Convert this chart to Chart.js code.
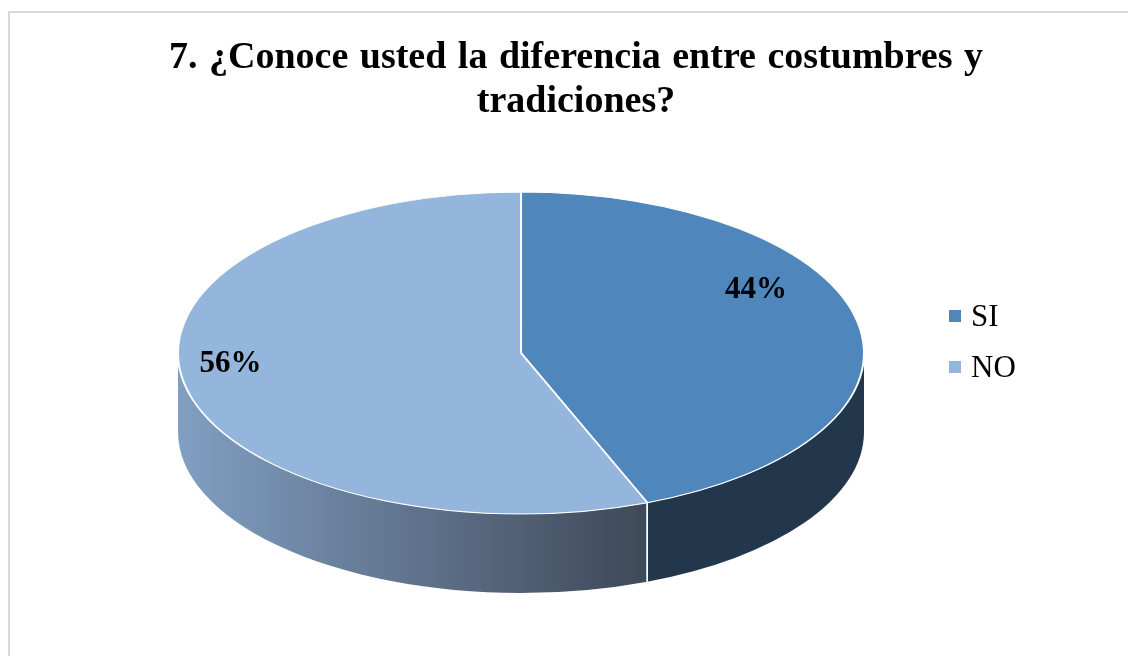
<!DOCTYPE html>
<html>
<head>
<meta charset="utf-8">
<script src="https://cdn.jsdelivr.net/npm/chart.js@4/dist/chart.umd.min.js"></script>
<style>
  html, body { margin: 0; padding: 0; background: #fff; }
  #wrap { position: relative; width: 1128px; height: 656px; overflow: hidden; }
  #frame { position: absolute; left: 8px; top: 11px; width: 1200px; height: 700px; border: 2px solid #d9d9d9; box-sizing: border-box; }
  #chart { position: absolute; left: 0; top: 0; }
  #legend { position: absolute; left: 949px; top: 290px; font-family: "Liberation Serif", serif; font-size: 31px; color: #000; }
  #legend div { height: 51px; display: flex; align-items: center; }
  #legend span.box { display: inline-block; width: 12px; height: 12px; margin-right: 10px; }
</style>
</head>
<body>
<div id="wrap">
  <div id="frame"></div>
  <canvas id="chart" width="1128" height="656"></canvas>
  <div id="legend"></div>
</div>
<script>
const titleLines = ["7. ¿Conoce usted la diferencia entre costumbres y", "tradiciones?"];
const categories = ["SI", "NO"];
const percentages = [44, 56];
const topColors = ["#4f86bb", "#95b6dc"];
const sideColors = [["#22374c", "#22374c"], ["#819fc2", "#3e4858"]];
const labelSpots = [{ t: 0.38, r: 0.79 }, { t: 0.53, r: 0.85 }];

const DEPTH = 79;

function geometry(chart) {
  const a = chart.chartArea;
  const rx = (a.right - a.left) / 2;
  const ry = (a.bottom - a.top - DEPTH) / 2;
  return { cx: (a.left + a.right) / 2, cy: a.top + ry, rx, ry };
}

const pie3d = {
  id: "pie3d",
  beforeDatasetsDraw(chart) {
    const ctx = chart.ctx;
    const meta = chart.getDatasetMeta(0);
    const g = geometry(chart);

    // front walls, only the half facing us (0..PI)
    meta.data.forEach((arc, i) => {
      const s = Math.max(arc.startAngle, 0);
      const e = Math.min(arc.endAngle, Math.PI);
      if (e <= s) return;
      const x1 = g.cx + g.rx * Math.cos(e);
      const x2 = g.cx + g.rx * Math.cos(s);
      const grad = ctx.createLinearGradient(Math.min(x1, x2), 0, Math.max(x1, x2), 0);
      grad.addColorStop(0, sideColors[i][0]);
      grad.addColorStop(1, sideColors[i][1]);
      ctx.beginPath();
      ctx.ellipse(g.cx, g.cy, g.rx, g.ry, 0, s, e, false);
      ctx.ellipse(g.cx, g.cy + DEPTH, g.rx, g.ry, 0, e, s, true);
      ctx.closePath();
      ctx.fillStyle = grad;
      ctx.fill();
    });

    // white seam where the slices meet on the wall
    meta.data.forEach(arc => {
      [arc.startAngle, arc.endAngle].forEach(ang => {
        const n = ((ang % (2 * Math.PI)) + 2 * Math.PI) % (2 * Math.PI);
        if (n <= 0.01 || n >= Math.PI - 0.01) return;
        const x = g.cx + g.rx * Math.cos(n);
        const y = g.cy + g.ry * Math.sin(n);
        ctx.beginPath();
        ctx.moveTo(x, y);
        ctx.lineTo(x, y + DEPTH);
        ctx.strokeStyle = "#ffffff";
        ctx.lineWidth = 1.5;
        ctx.stroke();
      });
    });

    // squash the flat pie into the top ellipse
    const arc0 = meta.data[0];
    const r = arc0.outerRadius;
    ctx.save();
    ctx.translate(g.cx, g.cy);
    ctx.scale(g.rx / r, g.ry / r);
    ctx.translate(-arc0.x, -arc0.y);
  },
  afterDatasetsDraw(chart) {
    const ctx = chart.ctx;
    ctx.restore();
    const meta = chart.getDatasetMeta(0);
    const g = geometry(chart);
    ctx.save();
    ctx.font = 'bold 31px "Liberation Serif"';
    ctx.fillStyle = "#000";
    ctx.textAlign = "center";
    ctx.textBaseline = "middle";
    meta.data.forEach((arc, i) => {
      const spot = labelSpots[i];
      const ang = arc.startAngle + spot.t * (arc.endAngle - arc.startAngle);
      const x = g.cx + spot.r * g.rx * Math.cos(ang);
      const y = g.cy + spot.r * g.ry * Math.sin(ang);
      ctx.fillText(percentages[i] + "%", x, y);
    });

    // title: centred on the frame, first line spread a little like justified text
    ctx.font = 'bold 38px "Liberation Serif"';
    ctx.textBaseline = "alphabetic";
    ctx.wordSpacing = "2px";
    ctx.fillText(titleLines[0], 576, 68);
    ctx.wordSpacing = "0px";
    ctx.fillText(titleLines[1], 576, 112);
    ctx.restore();
  }
};

new Chart(document.getElementById("chart"), {
  type: "pie",
  data: {
    labels: categories,
    datasets: [{
      data: percentages,
      backgroundColor: topColors,
      borderColor: "#ffffff",
      borderWidth: 1.2
    }]
  },
  options: {
    responsive: false,
    animation: false,
    events: [],
    layout: { padding: { top: 192, left: 178, right: 264, bottom: 63 } },
    plugins: {
      legend: { display: false },
      tooltip: { enabled: false },
      title: { display: false }
    }
  },
  plugins: [pie3d]
});

const legend = document.getElementById("legend");
categories.forEach((c, i) => {
  const row = document.createElement("div");
  row.innerHTML = `<span class="box" style="background:${topColors[i]}"></span>${c}`;
  legend.appendChild(row);
});
</script>
</body>
</html>
